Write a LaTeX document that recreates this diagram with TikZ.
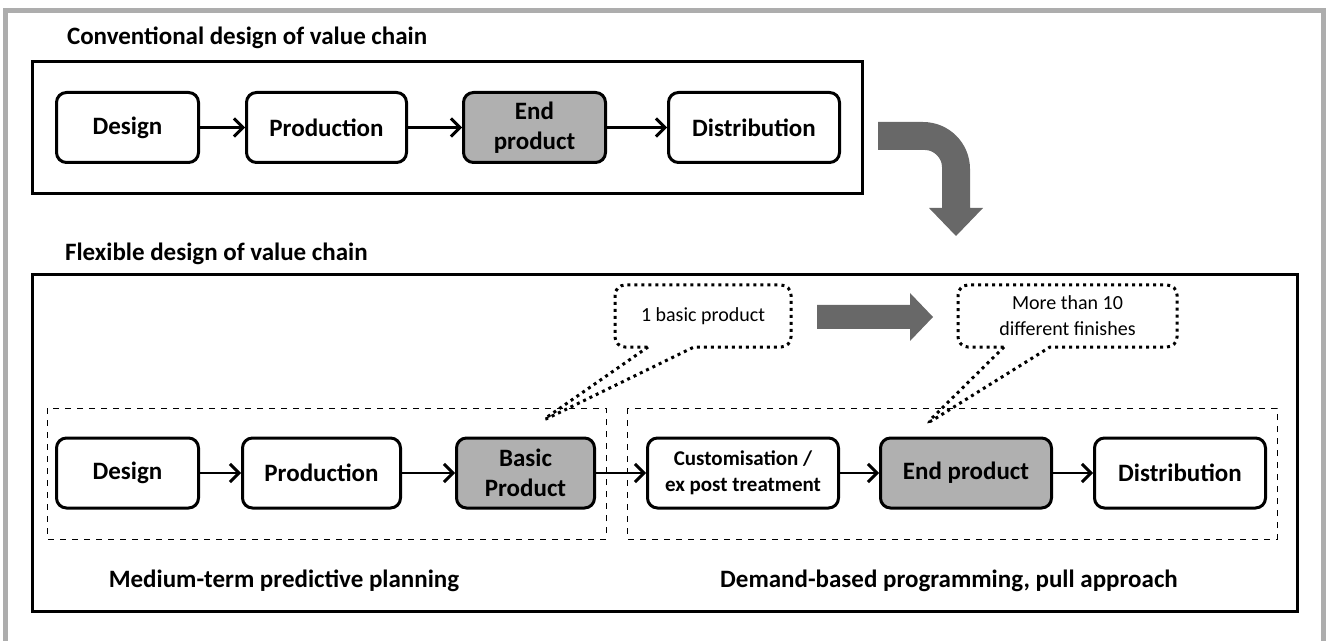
\documentclass[tikz,border=0pt]{standalone}
\usepackage{fontspec}
\setmainfont{Carlito}
\usetikzlibrary{arrows.meta, shapes.callouts}

\definecolor{boxgray}{HTML}{B0B0B0}
\definecolor{arrowgray}{HTML}{686868}
\definecolor{framegray}{HTML}{ADADAD}

\begin{document}
\begin{tikzpicture}[x=0.5pt, y=-0.5pt,
  stage/.style={draw, line width=1.5pt, rounded corners=5pt, fill=white,
    minimum height=35pt, align=center, font=\bfseries\fontsize{12.5}{15}\selectfont},
  output/.style={stage, fill=boxgray},
  flow/.style={-{Straight Barb[length=4.5pt,width=9pt,line width=1.5pt]}, line width=1.4pt},
  heading/.style={font=\bfseries\fontsize{12.5}{15}\selectfont},
  note/.style={rectangle callout, draw, dotted, line width=1.5pt, rounded corners=5pt,
    minimum height=31pt, callout pointer width=23pt, align=center,
    font=\fontsize{10}{13}\selectfont}]

\useasboundingbox (0,0) rectangle (1326,641);

% Grey page frame
\draw[framegray, line width=2.5pt] (5.5,641) -- (5.5,11) -- (1323.5,11) -- (1323.5,641);

% Conventional chain
\node[heading, anchor=west] (convtitle) at (60,38) {Conventional design of value chain};
\draw[line width=1.5pt] (32,62) rectangle (862,194);
\node[stage, minimum width=71pt] (design1) at (127.5,127.5) {Design};
\node[stage, minimum width=80pt] (prod1) at (326.5,127.5) {Production};
\node[output, minimum width=71pt] (end1) at (534.5,127.5) {End\\product};
\node[stage, minimum width=85.5pt] (dist1) at (754,127.5) {Distribution};
\draw[flow] (design1) -- (prod1);
\draw[flow] (prod1) -- (end1);
\draw[flow] (end1) -- (dist1);

% Bent arrow down to the flexible chain
\fill[arrowgray] (878,122) -- (923,122) .. controls (949,122) and (970,143) .. (970,169)
  -- (970,208) -- (983,208) -- (956,236) -- (929,208) -- (942,208) -- (942,167)
  .. controls (942,158) and (934,150) .. (925,150) -- (878,150) -- cycle;

% Flexible chain
\node[heading, anchor=west] (flextitle) at (58,254) {Flexible design of value chain};
\draw[line width=1.5pt] (32,275) rectangle (1297,611);

% Planning groups
\draw[dashed, line width=0.5pt] (47,408) rectangle (606,539);
\draw[dashed, line width=0.5pt] (627,408) rectangle (1277,539);
\node[heading] (planning) at (284,581) {Medium-term predictive planning};
\node[heading] (demand) at (949,581) {Demand-based programming, pull approach};

\node[stage, minimum width=71pt] (design2) at (127.5,473) {Design};
\node[stage, minimum width=79pt] (prod2) at (321.5,473) {Production};
\node[output, minimum width=69pt] (basic) at (525.5,473) {Basic\\Product};
\node[stage, minimum width=95.5pt, font=\bfseries\fontsize{10.5}{13}\selectfont]
  (custom) at (743,473) {Customisation /\\ex post treatment};
\node[output, minimum width=85.5pt] (end2) at (966,473) {End product};
\node[stage, minimum width=85.5pt] (dist2) at (1180,473) {Distribution};
\draw[flow] (design2) -- (prod2);
\draw[flow] (prod2) -- (basic);
\draw[flow] (basic) -- (custom);
\draw[flow] (custom) -- (end2);
\draw[flow] (end2) -- (dist2);

% Callouts
\coordinate (basictip) at (540,422);
\coordinate (endtip) at (925,425);
\node[note, minimum width=88pt, callout absolute pointer={(basictip)}]
  (basicnote) at (703,316) {1 basic product};
\node[note, minimum width=109.5pt, callout absolute pointer={(endtip)}]
  (finishnote) at (1067.5,316) {More than 10\\different finishes};

% Arrow between the callouts
\fill[arrowgray] (817,305) -- (910,305) -- (910,293) -- (933,317) -- (910,341)
  -- (910,329) -- (817,329) -- cycle;

\end{tikzpicture}
\end{document}
